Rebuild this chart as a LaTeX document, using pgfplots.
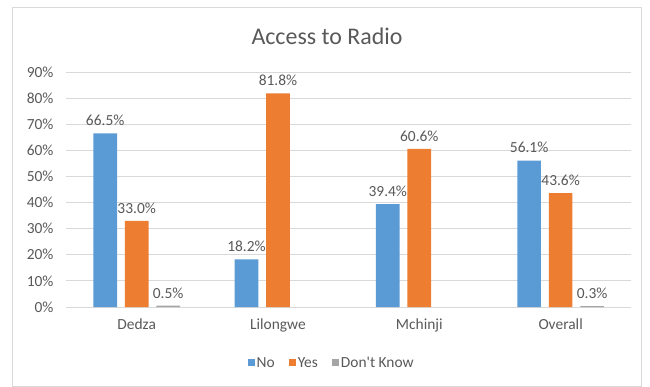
\documentclass[border=0pt]{standalone}
\usepackage{pgfplots}
\pgfplotsset{compat=1.18}
\usepackage{fontspec}
\setmainfont{Carlito}
\definecolor{cNo}{HTML}{5B9BD5}
\definecolor{cYes}{HTML}{ED7D31}
\definecolor{cDK}{HTML}{A5A5A5}
\definecolor{txt}{HTML}{595959}
\definecolor{grd}{HTML}{D9D9D9}
\begin{document}
\begin{tikzpicture}
\begin{axis}[
  at={(0,0)}, anchor=south west,
  scale only axis, width=565.3bp, height=235bp,
  ybar=7.8bp, bar width=23.7bp,
  xmin=-0.5, xmax=3.5, ymin=0, ymax=90,
  xtick={0,1,2,3}, xticklabels={Dedza,Lilongwe,Mchinji,Overall},
  ytick={0,10,...,90},
  yticklabel={\pgfmathprintnumber{\tick}\%},
  /pgf/number format/assume math mode=true,
  major tick length=0pt,
  ymajorgrids, grid style={grd, line width=0.8bp},
  axis line style={draw=none},
  every tick label/.append style={font=\fontsize{15.5}{18}\selectfont, text=txt},
  yticklabel style={xshift=-9bp},
  xticklabel style={yshift=-8bp},
  nodes near coords={\pgfmathprintnumber[fixed,fixed zerofill,precision=1]{\pgfplotspointmeta}\%},
  every node near coord/.append style={font=\fontsize{15.5}{18}\selectfont, text=txt, yshift=4bp},
  legend columns=3,
  legend style={at={(0.47,-0.238)}, anchor=center, draw=none, fill=none,
    font=\fontsize{15.5}{18}\selectfont, text=txt,
    /tikz/every even column/.append style={column sep=12bp}},
  legend image code/.code={\fill[#1] (0bp,-3.5bp) rectangle (7bp,3.5bp);},
  clip=false,
]
\addplot[fill=cNo, draw=none] coordinates {(0,66.5) (1,18.2) (2,39.4) (3,56.1)};
\addplot[fill=cYes, draw=none] coordinates {(0,33.0) (1,81.8) (2,60.6) (3,43.6)};
\addplot[fill=cDK, draw=none] coordinates {(0,0.5) (3,0.3)};
\legend{No,Yes,Don\textquotesingle t Know}
\end{axis}
\draw[grd, line width=0.8bp] (-53.5bp,-79.5bp) rectangle (575bp,300bp);
\node[font=\fontsize{24}{28}\selectfont, text=txt] at (261bp,271bp) {Access to Radio};
\pgfresetboundingbox
\path (-66bp,-80bp) rectangle (584bp,307bp);
\end{tikzpicture}
\end{document}
